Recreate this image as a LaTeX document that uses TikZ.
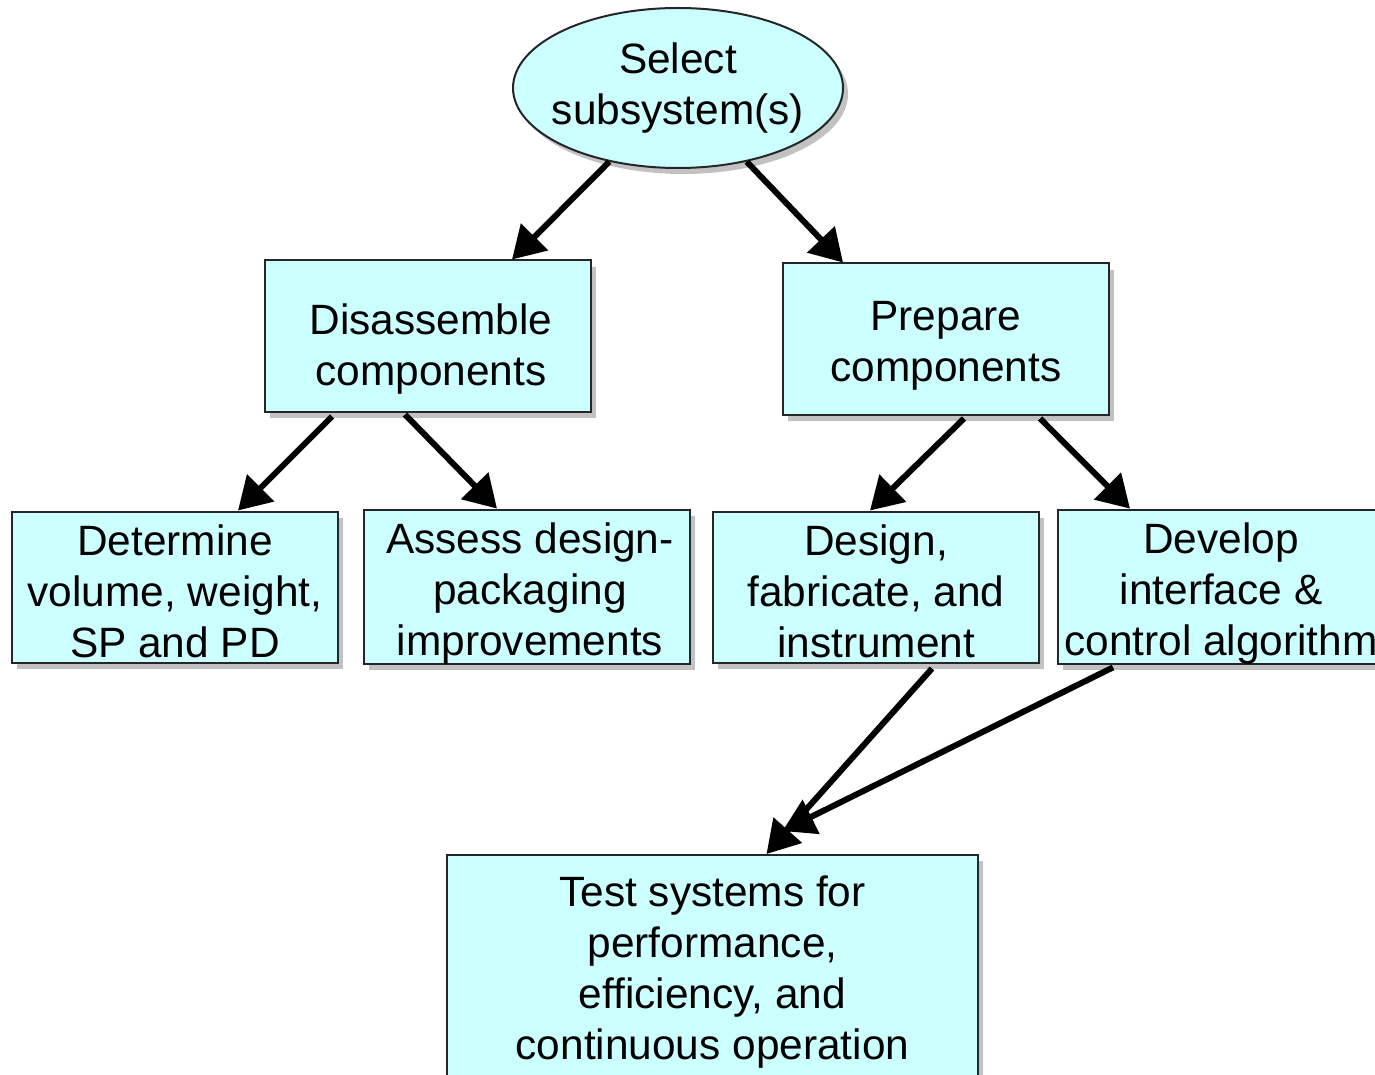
\documentclass[tikz,border=0pt]{standalone}
\usepackage{fontspec}
\setmainfont{Liberation Sans}
\usetikzlibrary{shapes.geometric,shadows,arrows.meta}
\definecolor{boxfill}{HTML}{CCFFFF}
\newcommand\lift[1]{\rule{0pt}{#1}}

\begin{document}
\begin{tikzpicture}[x=0.5pt,y=-0.5pt,
   every node/.style={font=\fontsize{21.2}{25.5}\selectfont, align=center, inner sep=0pt},
   stepbox/.style={draw=black!85, line width=1pt, fill=boxfill, minimum width=163pt, minimum height=75.5pt,
      drop shadow={shadow xshift=2.5pt, shadow yshift=-3pt, fill=black!40, opacity=0.6}},
   oval/.style={stepbox, ellipse, inner xsep=-4.8pt, minimum width=165pt, minimum height=80pt},
   arr/.style={line width=3pt, -{Triangle[length=16pt,width=18.5pt]}}]
   \path[use as bounding box, clip] (0,0) rectangle (1375,1075);

   \node[oval] (sel) at (678,88) {Select\\subsystem(s)};

   \node[stepbox] (dis) at (428,336) {\lift{28pt}\hspace*{3pt}Disassemble\\\hspace*{3pt}components};
   \node[stepbox] (prep) at (946,339) {\lift{21pt}Prepare\\components};

   \node[stepbox] (det) at (175,587) {\lift{19.5pt}Determine\\volume, weight,\\SP and PD};
   \node[stepbox] (ass) at (527,587) {\lift{22pt}\hspace*{3pt}Assess design-\\\hspace*{3pt}packaging\\\hspace*{3pt}improvements};
   \node[stepbox] (des) at (876,587) {\lift{19.5pt}Design,\\fabricate, and\\instrument};
   \node[stepbox] (dev) at (1221,587) {\lift{22pt}Develop\\interface \&\\control algorithm};

   \node[stepbox, minimum width=265.5pt, minimum height=113pt] (test) at (712.5,968)
      {\lift{19.5pt}Test systems for\\performance,\\efficiency, and\\continuous operation};

   \draw[arr] (sel.227) -- ([xshift=42pt]dis.north);
   \draw[arr] (sel.313) -- ([xshift=-51.5pt]prep.north);
   \draw[arr] ([xshift=-48pt,yshift=-2pt]dis.south) -- ([xshift=31.5pt]det.north);
   \draw[arr] ([xshift=-11.5pt,yshift=-1pt]dis.south) -- ([xshift=-15pt]ass.north);
   \draw[arr] ([xshift=9pt,yshift=-1.5pt]prep.south) -- ([xshift=-3pt]des.north);
   \draw[arr] ([xshift=47pt,yshift=-1.5pt]prep.south) -- ([xshift=-45.5pt]dev.north);
   \draw[arr] ([xshift=28pt,yshift=-2.5pt]des.south) -- ([xshift=27pt]test.north);
   \draw[arr] ([xshift=-54pt,yshift=-1pt]dev.south) -- ([xshift=35pt,yshift=11.5pt]test.north);
\end{tikzpicture}
\end{document}
